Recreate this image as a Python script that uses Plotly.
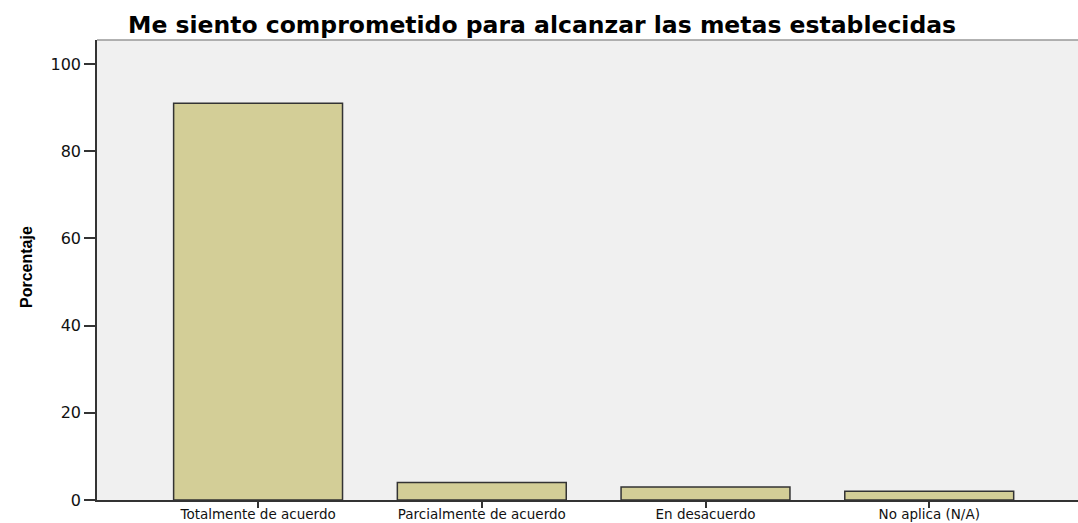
import plotly.graph_objects as go

categories = ["Totalmente de acuerdo", "Parcialmente de acuerdo", "En desacuerdo", "No aplica (N/A)"]
percentages = [91.0, 4.0, 3.0, 2.0]
y_ticks = [0, 20, 40, 60, 80, 100]
title_text = "Me siento comprometido para alcanzar las metas establecidas"
y_title = "Porcentaje"

W, H = 1078, 523
L, R, T, B = 97, 0, 40, 23
plot_w = W - L - R

fig = go.Figure()
fig.add_trace(go.Bar(
    x=list(range(len(categories))),
    y=percentages,
    width=0.755,
    marker=dict(color="#D3CE97", line=dict(color="#333333", width=1.5)),
    hoverinfo="skip",
))

fig.update_layout(
    width=W, height=H,
    margin=dict(l=L, r=R, t=T, b=B, autoexpand=False),
    paper_bgcolor="white",
    plot_bgcolor="#F0F0F0",
    showlegend=False,
    font=dict(family="DejaVu Sans, Arial, sans-serif", color="#222222"),
    xaxis=dict(
        range=[-0.72, 3.665],
        tickmode="array",
        tickvals=list(range(len(categories))),
        ticktext=categories,
        ticks="outside", ticklen=6, tickwidth=1.5, tickcolor="#333333",
        showline=True, linecolor="#333333", linewidth=1.5,
        showgrid=False, zeroline=False,
        tickfont=dict(size=13.5, color="#111111"),
        ticklabelstandoff=-5,
        automargin=False,
        fixedrange=True,
    ),
    yaxis=dict(
        range=[0, 105.5],
        tickmode="array",
        tickvals=y_ticks,
        ticks="outside", ticklen=11, tickwidth=1.5, tickcolor="#333333",
        showline=True, linecolor="#333333", linewidth=1.5,
        showgrid=False, zeroline=False,
        tickfont=dict(size=16, color="#111111"),
        automargin=False,
        fixedrange=True,
    ),
    shapes=[dict(type="line", xref="paper", yref="paper", x0=0, x1=1, y0=1, y1=1,
                 line=dict(color="#999999", width=1.5))],
    annotations=[
        dict(text="<b>" + title_text + "</b>", xref="paper", yref="paper",
             x=(542 - L) / plot_w, y=1, yshift=15, xanchor="center", yanchor="middle",
             showarrow=False, font=dict(size=23.5, color="#000000",
                                        family="DejaVu Sans, Arial, sans-serif")),
        dict(text="<b>" + y_title + "</b>", xref="paper", yref="paper",
             x=(26 - L) / plot_w, y=(500 - 267) / 460, xanchor="center", yanchor="middle",
             textangle=-90, showarrow=False,
             font=dict(size=16, color="#000000",
                       family="Liberation Sans Narrow, Arial Narrow, Liberation Sans, sans-serif")),
    ],
)

fig.write_html(
    "out.html",
    config={"displayModeBar": False},
    post_script="document.body.style.margin='0';document.body.style.overflow='hidden';",
)
